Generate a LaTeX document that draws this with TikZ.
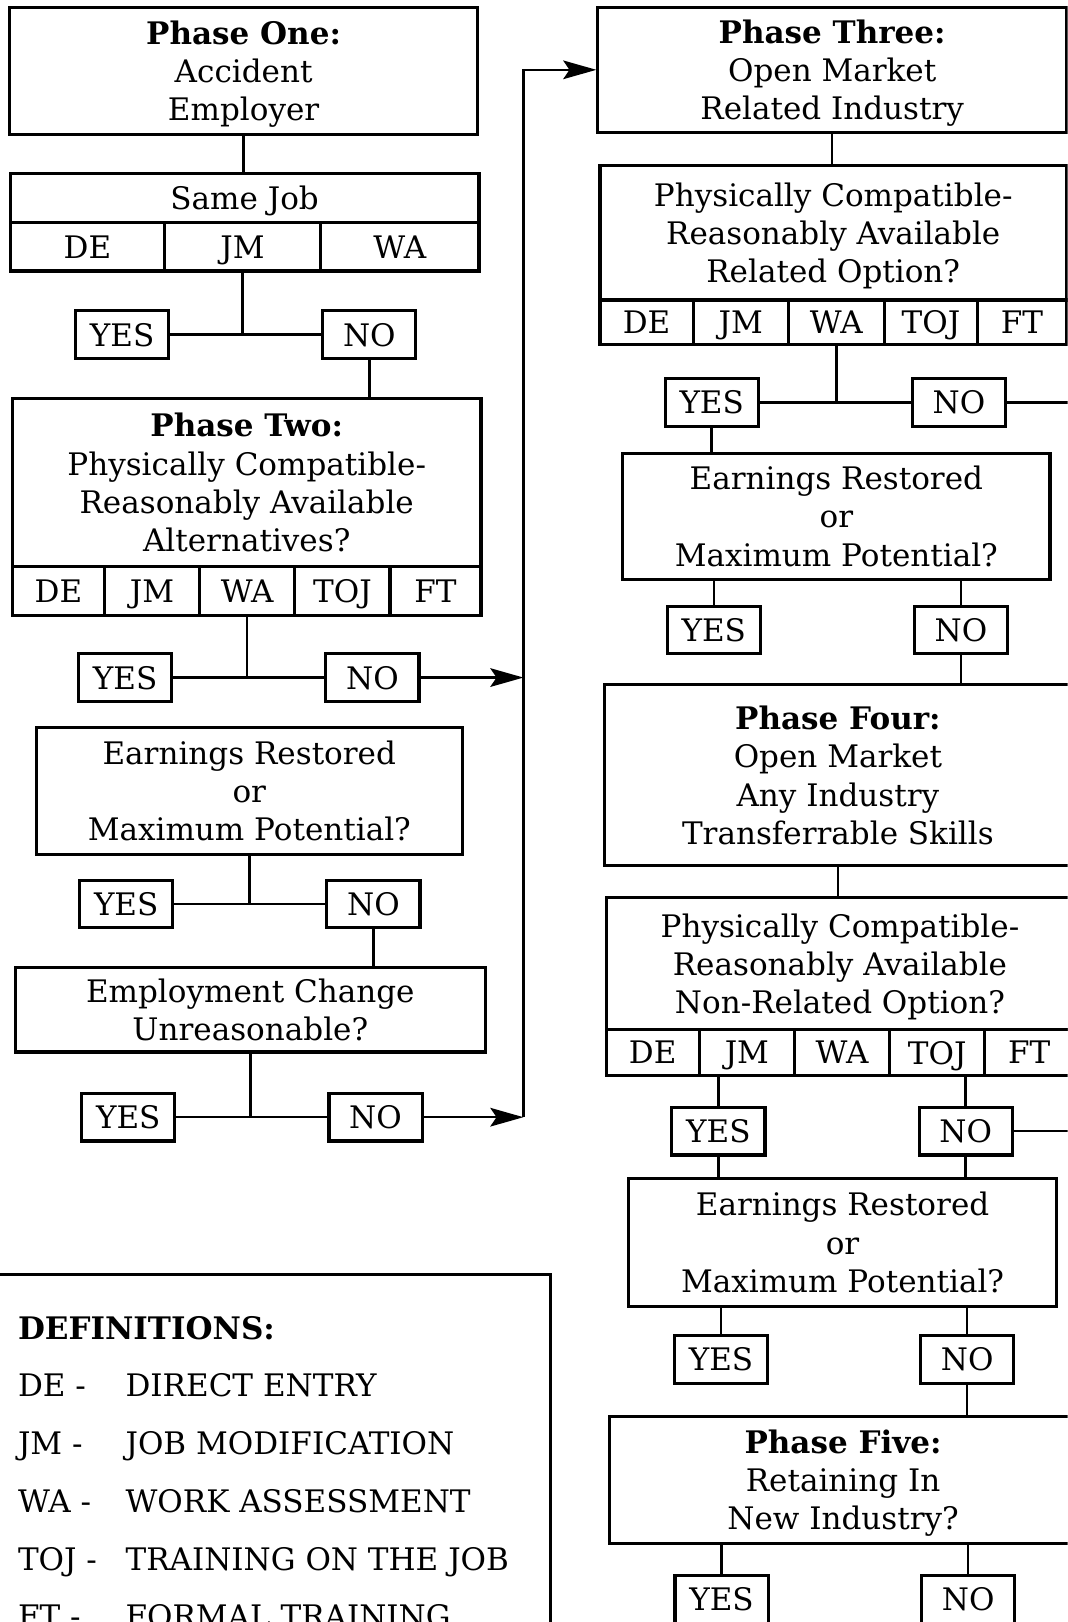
\documentclass[tikz,border=0pt]{standalone}
\usepackage{fontspec}
\setmainfont{DejaVu Serif}
\usetikzlibrary{arrows.meta}
\newlength\pxu
\setlength\pxu{0.5pt}
\newcommand{\chartfont}{\fontsize{15}{18.5}\selectfont}

\begin{document}
\begin{tikzpicture}[
    x=0.5pt, y=-0.5pt,
    >={Stealth[length=16pt, width=9pt, inset=3pt]},
    box/.style={draw, line width=1.5pt, align=center, inner sep=0pt, font=\chartfont, text depth=0pt},
    boxsize/.style 2 args={minimum width=#1\pxu, minimum height=#2\pxu},
    cell/.style 2 args={box, boxsize={#1}{#2}},
    answer/.style={box, boxsize={90}{46}},
    link/.style={line width=1.2pt},
    defitem/.style={anchor=base west, inner sep=0pt, font=\chartfont}
]

% Page frame
\useasboundingbox (0,0) rectangle (1032,1568);
\clip (0,0) rectangle (1032,1568);
\fill[white] (0,0) rectangle (1032,1568);

\coordinate (rail) at (506,1080);
\coordinate (edge) at (1040,0);

% 1. LEFT COLUMN (Phase One, Phase Two)
\node[box, boxsize={453}{123}] (p1) at (235.5,68.5) {\textbf{Phase One:}\\Accident\\Employer};
\node[box, boxsize={453}{47}] (sj) at (236.5,191.5) {Same Job};
\node[cell={149}{47}] (sjDE) at (84.5,238.5) {DE};
\node[cell={151}{47}] (sjJM) at (234.5,238.5) {JM};
\node[cell={153}{47}] (sjWA) at (386.5,238.5) {WA};
\node[answer] (y1) at (118,323.5) {YES};
\node[answer] (n1) at (357,323.5) {NO};

\node[box, boxsize={453}{163}] (p2) at (238.5,466.5) {\textbf{Phase Two:}\\Physically Compatible-\\Reasonably Available\\Alternatives?};
\foreach \t/\x/\w in {DE/56.5/89, JM/147/92, WA/239/92, TOJ/331/92, FT/421/88}
    \node[cell={\w}{47}] (p2\t) at (\x,571.5) {\t};
\node[answer] (y2) at (121,655) {YES};
\node[answer] (n2) at (360,655) {NO};

\node[box, boxsize={412}{123}] (e2) at (241,764.5) {Earnings Restored\\or\\Maximum Potential?};
\node[answer] (y3) at (122,874) {YES};
\node[answer] (n3) at (361,874) {NO};

\node[box, boxsize={454}{82}] (ec) at (242,976) {Employment Change\\Unreasonable?};
\node[answer] (y4) at (124,1080) {YES};
\node[answer] (n4) at (363,1080) {NO};

% 2. RIGHT COLUMN (Phase Three, Four, Five)
\node[box, boxsize={453}{121}] (p3) at (804.5,67.5) {\textbf{Phase Three:}\\Open Market\\Related Industry};
\node[box, boxsize={451}{130}] (pc3) at (805.5,225) {Physically Compatible-\\Reasonably Available\\Related Option?};
\foreach \t/\x/\w in {DE/625/90, JM/716/92, WA/808.5/93, TOJ/900/90, FT/988/86}
    \node[cell={\w}{43}] (pc3\t) at (\x,311.5) {\t};
\node[answer] (y5) at (688,389) {YES};
\node[answer] (n5) at (927,389) {NO};

\node[box, boxsize={413}{122}] (e3) at (808.5,499) {Earnings Restored\\or\\Maximum Potential?};
\node[answer] (y6) at (690,609) {YES};
\node[answer] (n6) at (929,609) {NO};

\node[box, boxsize={452}{175}] (p4) at (810,749.5) {\textbf{Phase Four:}\\Open Market\\Any Industry\\Transferrable Skills};
\node[box, boxsize={452}{127}] (pc4) at (812,931.5) {Physically Compatible-\\Reasonably Available\\Non-Related Option?};
\foreach \t/\x/\w in {DE/631/90, JM/722/92, WA/814/92, TOJ/906/92, FT/995/86}
    \node[cell={\w}{45}] (pc4\t) at (\x,1017.5) {\t};
\node[answer] (y7) at (694.5,1093.5) {YES};
\node[answer] (n7) at (933.5,1093.5) {NO};

\node[box, boxsize={413}{124}] (e4) at (814.5,1201) {Earnings Restored\\or\\Maximum Potential?};
\node[answer] (y8) at (697,1314) {YES};
\node[answer] (n8) at (935,1314) {NO};

\node[box, boxsize={452}{123}] (p5) at (815,1430.5) {\textbf{Phase Five:}\\Retaining In\\New Industry?};
\node[answer] (y9) at (697.5,1546) {YES};
\node[answer] (n9) at (936,1546) {NO};

% 3. DEFINITIONS
\node[draw, line width=1.5pt, inner sep=0pt, boxsize={542}{380}] (defs) at (261,1422) {};
\node[defitem, font=\chartfont\bfseries] (defhead) at (17,1295) {DEFINITIONS:};
\foreach \a/\d/\yy in {DE/DIRECT ENTRY/1350, JM/JOB MODIFICATION/1406, WA/WORK ASSESSMENT/1462, TOJ/TRAINING ON THE JOB/1518, FT/FORMAL TRAINING/1573} {
    \node[defitem] (ab\a) at (17,\yy) {\a\ -};
    \node[defitem] (df\a) at (121,\yy) {\d};
}

% 4. CONNECTORS, left
\draw[link] (p1.south) -- (p1.south |- sj.north);
\draw[link] (sjJM.south) -- (sjJM.south |- y1.east);
\draw[link] (y1.east) -- (n1.west);
\draw[link] (n1.south) -- (n1.south |- p2.north);
\draw[link] (p2WA.south) -- (p2WA.south |- y2.east);
\draw[link] (y2.east) -- (n2.west);
\draw[link, ->] (n2.east) -- (n2.east -| rail);
\draw[link] (e2.south) -- (e2.south |- y3.east);
\draw[link] (y3.east) -- (n3.west);
\draw[link] (n3.south) -- (n3.south |- ec.north);
\draw[link] (ec.south) -- (ec.south |- y4.east);
\draw[link] (y4.east) -- (n4.west);
\draw[link, ->] (n4.east) -- (rail);
\draw[link, ->] (rail) -- (rail |- p3.west) -- (p3.west);

% CONNECTORS, right
\draw[link] (p3.south) -- (p3.south |- pc3.north);
\draw[link] (pc3WA.south) -- (pc3WA.south |- y5.east);
\draw[link] (y5.east) -- (n5.west);
\draw[link] (n5.east) -- (n5.east -| edge);
\draw[link] (y5.south) -- (y5.south |- e3.north);
\draw[link] (y6.north |- e3.south) -- (y6.north);
\draw[link] (n6.north |- e3.south) -- (n6.north);
\draw[link] (n6.south) -- (n6.south |- p4.north);
\draw[link] (p4.south) -- (p4.south |- pc4.north);
\draw[link] (y7.north |- pc4JM.south) -- (y7.north);
\draw[link] (n7.north |- pc4TOJ.south) -- (n7.north);
\draw[link] (n7.east) -- (n7.east -| edge);
\draw[link] (y7.south) -- (y7.south |- e4.north);
\draw[link] (n7.south) -- (n7.south |- e4.north);
\draw[link] (y8.north |- e4.south) -- (y8.north);
\draw[link] (n8.north |- e4.south) -- (n8.north);
\draw[link] (n8.south) -- (n8.south |- p5.north);
\draw[link] (y9.north |- p5.south) -- (y9.north);
\draw[link] (n9.north |- p5.south) -- (n9.north);

\end{tikzpicture}
\end{document}
